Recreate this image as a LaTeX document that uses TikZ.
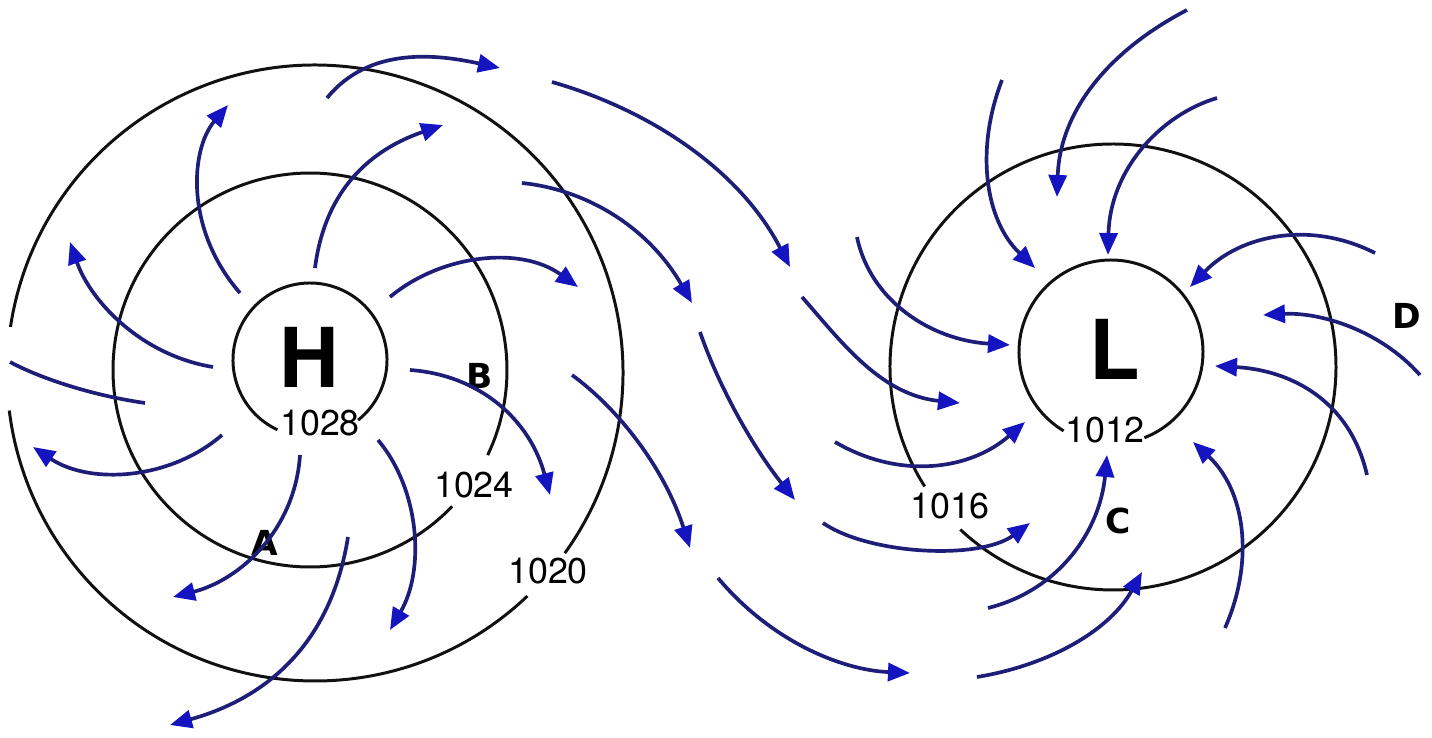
\documentclass[tikz,border=0pt]{standalone}
\usepackage{fontspec}
\setsansfont{TeX Gyre Heros}
\newfontfamily\letterfont{DejaVu Sans}
\usepackage{xcolor}
\definecolor{Isobar}{HTML}{111111}
\definecolor{Wind}{HTML}{1E1E78}
\definecolor{WindTip}{HTML}{1414C0}
\usetikzlibrary{arrows.meta}
\tikzset{
  isobar/.style={draw=Isobar,line width=0.85pt},
  wind/.style={draw=Wind,line width=1.05pt,-{Triangle[length=2.2mm,width=1.8mm,color=WindTip]}},
  windtail/.style={draw=Wind,line width=1.05pt},
  centre/.style={font=\sffamily\bfseries\fontsize{23.5}{24}\selectfont,inner sep=0pt},
  press/.style={font=\sffamily\fontsize{10.2}{10}\selectfont,inner sep=0pt},
  spot/.style={font=\letterfont\bfseries\fontsize{9.8}{10}\selectfont,inner sep=0pt}
}

\begin{document}
\begin{tikzpicture}[x=0.1mm,y=-0.1mm]
  \useasboundingbox (0,0) rectangle (1432,738);
  \coordinate (hc1) at (310,360);
  \coordinate (hc2) at (310,370);
  \coordinate (hc3) at (315,373);
  \coordinate (lc1) at (1111,352);
  \coordinate (lc2) at (1113,367);

  % isobars
  \draw[isobar] (hc1) ++(115:77) arc[start angle=115,end angle=411.3,radius=77];
  \draw[isobar] (hc2) ++(43.8:197) arc[start angle=43.8,end angle=385.6,radius=197];
  \draw[isobar] (hc3) ++(46.4:308) arc[start angle=46.4,end angle=173,radius=308];
  \draw[isobar] (hc3) ++(188.6:308) arc[start angle=188.6,end angle=395.8,radius=308];
  \draw[isobar] (lc1) ++(121:92) arc[start angle=121,end angle=428.7,radius=92];
  \draw[isobar] (lc2) ++(147.6:223) arc[start angle=147.6,end angle=493.2,radius=223];

  \node[centre] (high) at (309,357) {H};
  \node[centre] (low) at (1115,349) {L};
  \node[press] (p1028) at (320,423) {1028};
  \node[press] (p1024) at (474,485) {1024};
  \node[press] (p1020) at (548,571) {1020};
  \node[press] (p1016) at (950,506) {1016};
  \node[press] (p1012) at (1105,430) {1012};
  \node[spot] (ptA) at (265,543) {A};
  \node[spot] (ptB) at (480,376) {B};
  \node[spot] (ptC) at (1118,521) {C};
  \node[spot] (ptD) at (1407,316) {D};

  % outflow round the high
  \draw[wind] (327,98) .. controls (370,45) and (440,55) .. (500,68);
  \draw[wind] (240,293) .. controls (185,230) and (190,150) .. (228,105);
  \draw[wind] (315,268) .. controls (325,190) and (370,150) .. (443,125);
  \draw[wind] (213,367) .. controls (140,355) and (90,300) .. (70,242);
  \draw[windtail] (145,403) .. controls (90,395) and (40,378) .. (10,362);
  \draw[wind] (222,435) .. controls (170,480) and (90,485) .. (33,447);
  \draw[wind] (300,455) .. controls (295,530) and (240,580) .. (173,597);
  \draw[wind] (348,537) .. controls (330,650) and (260,700) .. (170,725);
  \draw[wind] (378,440) .. controls (420,490) and (425,570) .. (390,630);
  \draw[wind] (410,370) .. controls (480,375) and (530,420) .. (550,495);
  \draw[wind] (390,297) .. controls (440,255) and (520,245) .. (578,287);

  % between the centres
  \draw[wind] (522,183) .. controls (590,190) and (650,230) .. (692,303);
  \draw[wind] (552,82) .. controls (650,110) and (740,170) .. (790,267);
  \draw[wind] (572,375) .. controls (620,410) and (665,470) .. (690,548);
  \draw[wind] (700,332) .. controls (720,390) and (755,450) .. (795,500);
  \draw[wind] (802,297) .. controls (840,340) and (880,395) .. (960,403);
  \draw[wind] (718,578) .. controls (770,640) and (840,670) .. (910,673);
  \draw[wind] (857,237) .. controls (870,300) and (930,340) .. (1010,345);
  \draw[wind] (835,442) .. controls (900,480) and (970,470) .. (1025,422);
  \draw[wind] (823,523) .. controls (870,555) and (980,560) .. (1030,523);

  % inflow round the low
  \draw[wind] (1002,80) .. controls (975,150) and (985,220) .. (1035,268);
  \draw[wind] (1187,10) .. controls (1110,50) and (1060,110) .. (1057,197);
  \draw[wind] (1217,98) .. controls (1160,115) and (1110,170) .. (1108,255);
  \draw[wind] (1375,253) .. controls (1310,220) and (1240,235) .. (1190,287);
  \draw[wind] (1420,375) .. controls (1380,330) and (1320,312) .. (1263,315);
  \draw[wind] (1367,475) .. controls (1350,400) and (1290,370) .. (1215,366);
  \draw[wind] (1225,628) .. controls (1255,560) and (1245,490) .. (1193,442);
  \draw[wind] (988,608) .. controls (1060,590) and (1100,530) .. (1107,455);
  \draw[wind] (977,677) .. controls (1050,665) and (1110,630) .. (1142,572);
\end{tikzpicture}
\end{document}
